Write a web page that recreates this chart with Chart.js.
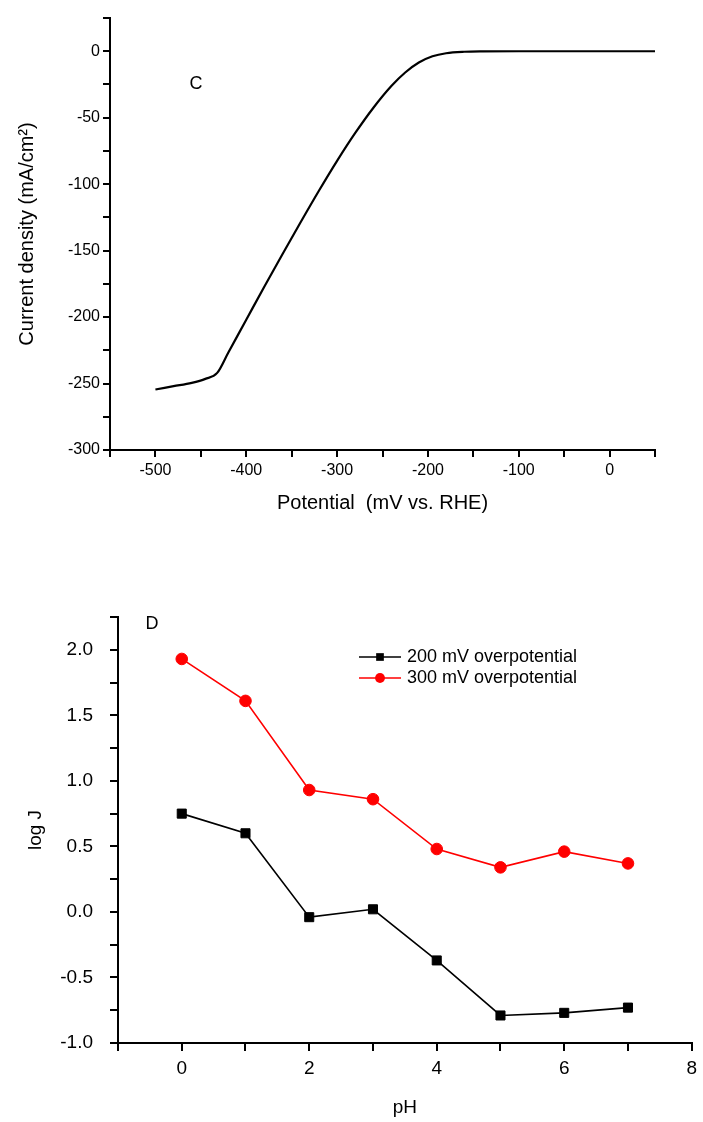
<!DOCTYPE html>
<html>
<head>
<meta charset="utf-8">
<script src="https://cdn.jsdelivr.net/npm/chart.js@4.4.1/dist/chart.umd.min.js"></script>
<style>
  html, body { margin: 0; padding: 0; background: #fff; }
  #wrapC { position: absolute; left: 0; top: 0; }
  #wrapD { position: absolute; left: 0; top: 560px; }
</style>
</head>
<body>
<div id="wrapC"><canvas id="chartC" width="703" height="540"></canvas></div>
<div id="wrapD"><canvas id="chartD" width="703" height="562"></canvas></div>
<script>
// --- panel C: polarisation curve ---
const potential = [-500, -480, -460, -445, -432, -420, -400, -380, -360, -340, -320, -300,
                   -280, -260, -240, -225, -210, -195, -180, -160, -140, -100, -50, 0, 50];
const currentDensity = [-254.5, -252, -249.5, -246.5, -242, -227, -202, -177, -152.5, -128.5, -105, -82.5,
                        -61.5, -42.5, -26, -16, -8.5, -3.8, -1.5, -0.4, -0.1, 0, 0, 0, 0];

// --- panel D: log J vs pH ---
const ph = [0, 1, 2, 3, 4, 5, 6, 7];
const logJ200 = [0.75, 0.60, -0.04, 0.02, -0.37, -0.79, -0.77, -0.73];
const logJ300 = [1.93, 1.61, 0.93, 0.86, 0.48, 0.34, 0.46, 0.37];
const seriesNames = ['200 mV overpotential', '300 mV overpotential'];

Chart.defaults.font.family = '"Liberation Sans", Arial, sans-serif';
Chart.defaults.color = '#000';

const toXY = (xs, ys) => xs.map((x, i) => ({ x: x, y: ys[i] }));

// simple axis style shared by both panels
function axis(opts) {
  return {
    type: 'linear',
    min: opts.min,
    max: opts.max,
    border: { display: true, color: '#000', width: 2 },
    grid: { drawOnChartArea: false, drawTicks: true, tickLength: opts.tickLength, color: '#000', lineWidth: 2 },
    ticks: {
      stepSize: opts.step,
      autoSkip: false,
      maxRotation: 0,
      padding: opts.pad,
      font: { size: opts.fontSize },
      callback: opts.label
    },
    title: {
      display: true,
      text: opts.title,
      font: { size: opts.titleSize },
      padding: { top: opts.titlePad, bottom: opts.titlePad }
    },
    afterFit: opts.fit
  };
}

// letter tag in the corner ("C" / "D")
const panelTag = {
  id: 'panelTag',
  afterDraw(chart, args, o) {
    const ctx = chart.ctx;
    ctx.save();
    ctx.font = o.size + 'px "Liberation Sans", Arial, sans-serif';
    ctx.fillStyle = '#000';
    ctx.textAlign = 'center';
    ctx.textBaseline = 'middle';
    ctx.fillText(o.text, o.x, o.y);
    ctx.restore();
  }
};

// legend with line + marker like the original
const lineLegend = {
  id: 'lineLegend',
  afterDraw(chart, args, o) {
    if (!o.show) return;
    const ctx = chart.ctx;
    ctx.save();
    chart.data.datasets.forEach((ds, i) => {
      const y = o.y + i * o.row;
      const cx = o.x + o.len / 2;
      const r = ds.pointRadius * 0.85;
      ctx.strokeStyle = ds.borderColor;
      ctx.lineWidth = 1.6;
      ctx.beginPath();
      ctx.moveTo(o.x, y);
      ctx.lineTo(o.x + o.len, y);
      ctx.stroke();
      ctx.fillStyle = ds.pointBackgroundColor;
      ctx.beginPath();
      if (ds.pointStyle === 'rect') {
        const s = r * Math.SQRT1_2;
        ctx.rect(cx - s, y - s, 2 * s, 2 * s);
      } else {
        ctx.arc(cx, y, r, 0, Math.PI * 2);
      }
      ctx.fill();
      ctx.fillStyle = '#000';
      ctx.font = o.size + 'px "Liberation Sans", Arial, sans-serif';
      ctx.textAlign = 'left';
      ctx.textBaseline = 'middle';
      ctx.fillText(ds.label, o.x + o.len + 6, y);
    });
    ctx.restore();
  }
};

new Chart(document.getElementById('chartC'), {
  type: 'scatter',
  data: {
    datasets: [{
      data: toXY(potential, currentDensity),
      showLine: true,
      borderColor: '#000',
      borderWidth: 2.2,
      pointRadius: 0,
      cubicInterpolationMode: 'monotone'
    }]
  },
  options: {
    responsive: false,
    animation: false,
    layout: { padding: { top: 18, right: 48, left: 0, bottom: 0 } },
    plugins: {
      legend: { display: false },
      tooltip: { enabled: false },
      panelTag: { text: 'C', x: 196, y: 84, size: 18 },
      lineLegend: { show: false }
    },
    scales: {
      x: axis({
        min: -550, max: 50, step: 50, tickLength: 7, pad: 4, fontSize: 16,
        label: v => (v % 100 === 0 ? String(v) : ''),
        title: 'Potential  (mV vs. RHE)', titleSize: 20, titlePad: 25,
        fit: s => { s.height = 90; }
      }),
      y: axis({
        min: -300, max: 25, step: 25, tickLength: 7, pad: 3, fontSize: 16,
        label: v => (v % 50 === 0 ? String(v) : ''),
        title: 'Current density (mA/cm\u00B2)', titleSize: 20, titlePad: 15,
        fit: s => { s.width = 110; }
      })
    }
  },
  plugins: [panelTag, lineLegend]
});

new Chart(document.getElementById('chartD'), {
  type: 'scatter',
  data: {
    datasets: [
      {
        label: seriesNames[0],
        data: toXY(ph, logJ200),
        showLine: true,
        borderColor: '#000',
        borderWidth: 1.6,
        pointStyle: 'rect',
        pointRadius: 6.4,
        pointBackgroundColor: '#000',
        pointBorderColor: '#000',
        pointBorderWidth: 1
      },
      {
        label: seriesNames[1],
        data: toXY(ph, logJ300),
        showLine: true,
        borderColor: '#ff0000',
        borderWidth: 1.6,
        pointStyle: 'circle',
        pointRadius: 5.8,
        pointBackgroundColor: '#ff0000',
        pointBorderColor: '#ff0000',
        pointBorderWidth: 1
      }
    ]
  },
  options: {
    responsive: false,
    animation: false,
    layout: { padding: { top: 57, right: 8, left: 0, bottom: 0 } },
    plugins: {
      legend: { display: false },
      tooltip: { enabled: false },
      panelTag: { text: 'D', x: 152, y: 64, size: 18 },
      lineLegend: { show: true, x: 359, y: 97, row: 21, len: 42, size: 18 }
    },
    scales: {
      x: axis({
        min: -1, max: 8, step: 1, tickLength: 8, pad: 6, fontSize: 19,
        label: v => (v >= 0 && v % 2 === 0 ? String(v) : ''),
        title: 'pH', titleSize: 19, titlePad: 3,
        fit: s => { s.height = 79; }
      }),
      y: axis({
        min: -1, max: 2.25, step: 0.25, tickLength: 8, pad: 17, fontSize: 19,
        label: v => (Math.abs(v * 2 - Math.round(v * 2)) < 1e-6 ? v.toFixed(1) : ''),
        title: 'log J', titleSize: 19, titlePad: 24,
        fit: s => { s.width = 118; }
      })
    }
  },
  plugins: [panelTag, lineLegend]
});
</script>
</body>
</html>
